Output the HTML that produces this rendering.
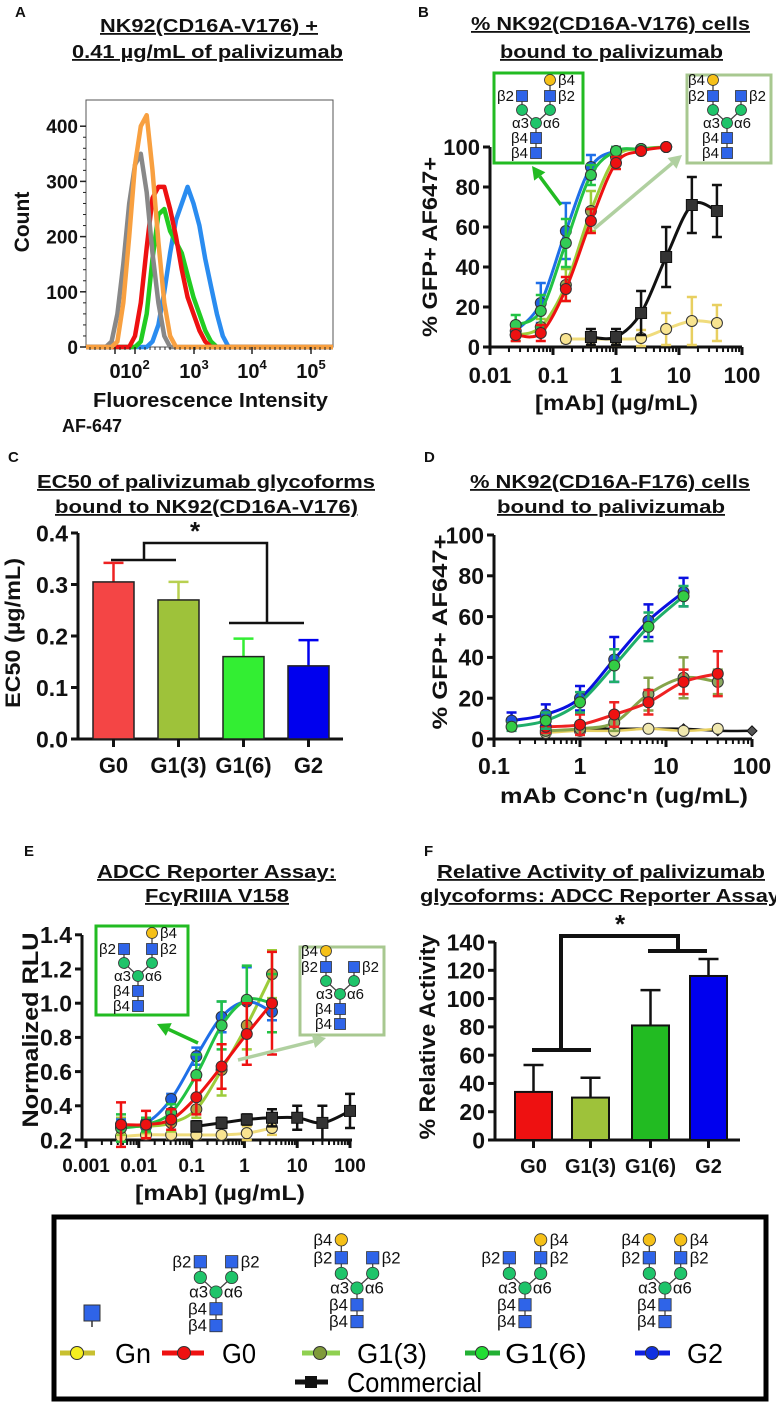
<!DOCTYPE html>
<html><head><meta charset="utf-8">
<style>
html,body{margin:0;padding:0;background:#fff;}
svg{display:block;font-family:"Liberation Sans",Arial,sans-serif;}
.t{font-weight:bold;fill:#111;}
.ttl{font-weight:bold;font-size:18px;fill:#111;text-decoration:underline;}
</style></head>
<body>
<svg id="fig" width="776" height="1406" viewBox="0 0 776 1406" xmlns="http://www.w3.org/2000/svg">
<!-- Panel labels -->
<text x="15" y="17" class="t" font-size="15">A</text>
<text x="418" y="17" class="t" font-size="15">B</text>
<text x="8" y="462" class="t" font-size="15">C</text>
<text x="424" y="462" class="t" font-size="15">D</text>
<text x="24" y="856" class="t" font-size="15">E</text>
<text x="424" y="856" class="t" font-size="15">F</text>

<!-- Titles -->
<text x="100" y="32" class="ttl" textLength="218" lengthAdjust="spacingAndGlyphs">NK92(CD16A-V176) +</text>
<text x="72" y="58" class="ttl" textLength="271" lengthAdjust="spacingAndGlyphs">0.41 µg/mL of palivizumab</text>
<text x="471" y="30" class="ttl" textLength="279" lengthAdjust="spacingAndGlyphs">% NK92(CD16A-V176) cells</text>
<text x="500" y="58" class="ttl" textLength="223" lengthAdjust="spacingAndGlyphs">bound to palivizumab</text>
<text x="37" y="488" class="ttl" textLength="338" lengthAdjust="spacingAndGlyphs">EC50 of palivizumab glycoforms</text>
<text x="55" y="513" class="ttl" textLength="303" lengthAdjust="spacingAndGlyphs">bound to NK92(CD16A-V176)</text>
<text x="470" y="488" class="ttl" textLength="280" lengthAdjust="spacingAndGlyphs">% NK92(CD16A-F176) cells</text>
<text x="497" y="513" class="ttl" textLength="228" lengthAdjust="spacingAndGlyphs">bound to palivizumab</text>
<text x="97" y="878" class="ttl" textLength="239" lengthAdjust="spacingAndGlyphs">ADCC Reporter Assay:</text>
<text x="145" y="902" class="ttl" textLength="144" lengthAdjust="spacingAndGlyphs">FcγRIIIA V158</text>
<text x="437" y="878" class="ttl" textLength="328" lengthAdjust="spacingAndGlyphs">Relative Activity of palivizumab</text>
<text x="420" y="902" class="ttl" textLength="360" lengthAdjust="spacingAndGlyphs">glycoforms: ADCC Reporter Assay</text>

<!-- Axis titles -->
<text transform="translate(29,222) rotate(-90)" text-anchor="middle" class="t" font-size="21">Count</text>
<text x="93" y="407" class="t" font-size="20" textLength="235" lengthAdjust="spacingAndGlyphs">Fluorescence Intensity</text>
<text x="62" y="432" class="t" font-size="18">AF-647</text>
<text transform="translate(437,247) rotate(-90)" text-anchor="middle" class="t" font-size="21" textLength="180" lengthAdjust="spacingAndGlyphs">% GFP+ AF647+</text>
<text x="535" y="410" class="t" font-size="21" textLength="163" lengthAdjust="spacingAndGlyphs">[mAb] (µg/mL)</text>
<text transform="translate(20,633) rotate(-90)" text-anchor="middle" class="t" font-size="21" textLength="150" lengthAdjust="spacingAndGlyphs">EC50 (µg/mL)</text>
<text transform="translate(447,632) rotate(-90)" text-anchor="middle" class="t" font-size="21" textLength="195" lengthAdjust="spacingAndGlyphs">% GFP+ AF647+</text>
<text x="500" y="803" class="t" font-size="21" textLength="248" lengthAdjust="spacingAndGlyphs">mAb Conc'n (ug/mL)</text>
<text transform="translate(38,1030) rotate(-90)" text-anchor="middle" class="t" font-size="22" textLength="195" lengthAdjust="spacingAndGlyphs">Normalized RLU</text>
<text x="135" y="1200" class="t" font-size="21" textLength="170" lengthAdjust="spacingAndGlyphs">[mAb] (µg/mL)</text>
<text transform="translate(435,1037) rotate(-90)" text-anchor="middle" class="t" font-size="22" textLength="205" lengthAdjust="spacingAndGlyphs">% Relative Activity</text>

<!-- Legend -->
<g>
<rect x="54" y="1217" width="712" height="182" fill="none" stroke="#000" stroke-width="5"/>
<g>
<line x1="60" y1="1353" x2="95" y2="1353" stroke="#c8c030" stroke-width="5"/>
<circle cx="77" cy="1353" r="6.5" fill="#f5ee20" stroke="#333"/>
<text x="115" y="1363" font-size="28" textLength="36" lengthAdjust="spacingAndGlyphs">Gn</text></g>
<g>
<line x1="162" y1="1353" x2="204" y2="1353" stroke="#ee1111" stroke-width="5"/>
<circle cx="184" cy="1353" r="6.5" fill="#ee1111" stroke="#333"/>
<text x="222" y="1363" font-size="28" textLength="34" lengthAdjust="spacingAndGlyphs">G0</text></g>
<g>
<line x1="302" y1="1353" x2="340" y2="1353" stroke="#8fd050" stroke-width="5"/>
<circle cx="320" cy="1353" r="6.5" fill="#7f9a3a" stroke="#333"/>
<text x="357" y="1363" font-size="28" textLength="70" lengthAdjust="spacingAndGlyphs">G1(3)</text></g>
<g>
<line x1="465" y1="1353" x2="500" y2="1353" stroke="#22b033" stroke-width="5"/>
<circle cx="482" cy="1353" r="6.5" fill="#22dd33" stroke="#333"/>
<text x="505" y="1363" font-size="28" textLength="82" lengthAdjust="spacingAndGlyphs">G1(6)</text></g>
<g>
<line x1="635" y1="1353" x2="670" y2="1353" stroke="#1020e0" stroke-width="5"/>
<circle cx="652" cy="1353" r="6.5" fill="#1030e0" stroke="#333"/>
<text x="687" y="1363" font-size="28" textLength="36" lengthAdjust="spacingAndGlyphs">G2</text></g>
<g>
<line x1="295" y1="1382" x2="328" y2="1382" stroke="#111" stroke-width="5"/>
<rect x="305" y="1376" width="12" height="12" fill="#111"/>
<text x="347" y="1392" font-size="28" textLength="135" lengthAdjust="spacingAndGlyphs">Commercial</text></g>
</g>
<g id="marks"></g>
</svg>
<script>
// ---------------- DATA ----------------
// Panel A histogram (log10 fluorescence bins, counts)
const aBins = [1.5,1.6,1.7,1.8,1.9,2.0,2.1,2.2,2.3,2.4,2.5,2.6,2.7,2.8,2.9,3.0,3.1,3.2,3.3,3.4,3.5,3.6,3.7,3.8];
const aBlue   = [0,0,0,0,0,0,0,0,10,40,100,170,230,260,290,260,220,160,110,60,20,0,0,0];
const aGreen  = [0,0,0,0,0,0,10,60,160,240,250,210,190,170,130,90,60,30,10,0,0,0,0,0];
const aRed    = [0,0,0,0,0,20,80,180,270,290,290,250,200,140,90,60,30,10,0,0,0,0,0,0];
const aGray   = [0,10,60,150,260,330,350,280,170,80,20,0,0,0,0,0,0,0,0,0,0,0,0,0];
const aOrange = [0,0,10,80,200,330,400,420,320,190,80,20,0,0,0,0,0,0,0,0,0,0,0,0];
const aYTicks = [0,100,200,300,400];
// Panel B
const bConc = [0.0256,0.064,0.16,0.4,1,2.5,6.25];
const bG2 = [8,22,58,90,98,99,100];   const bG2Err = [3,10,14,6,2,1,1];
const bG16 = [11,18,52,86,98,99,100]; const bG16Err = [5,8,12,5,2,1,1];
const bG13 = [6,10,31,68,95,99,100];  const bG13Err = [3,4,8,10,3,1,1];
const bG0 = [6,7,29,63,92,98,100];    const bG0Err = [3,4,6,6,3,1,1];
const bGnConc = [0.16,0.4,1,2.5,6.25,16,40];
const bGn = [4,4,4,4.5,9,13,12];      const bGnErr = [2,3,3,4,8,12,9];
const bComConc = [0.4,1,2.5,6.25,16,40];
const bCom = [5,5,17,45,71,68];       const bComErr = [4,4,11,15,14,13];
const bYTicks = [0,20,40,60,80,100];
const bXTicks = [0.01,0.1,1,10,100];
const bXLabels = ['0.01','0.1','1','10','100'];
// Panel C
const cCats = ['G0','G1(3)','G1(6)','G2'];
const cVals = [0.305,0.27,0.16,0.142];
const cErr = [0.037,0.035,0.035,0.05];
const cYTicks = [0,0.1,0.2,0.3,0.4];
const cYLabels = ['0.0','0.1','0.2','0.3','0.4'];
// Panel D
const dConc = [0.16,0.4,1,2.5,6.25,16];
const dG2 = [9,12,20,39,58,72];   const dG2Err = [4,5,6,11,8,7];
const dG16 = [6,9,18,36,55,70];   const dG16Err = [2,4,5,8,7,5];
const dConc2 = [0.4,1,2.5,6.25,16,40];
const dG13 = [4,5,8,22,30,28];    const dG13Err = [2,3,4,8,10,6];
const dG0 = [6,7,12,18,28,32];    const dG0Err = [3,5,6,6,6,11];
const dGn = [3,4,4,5,4,5];        const dGnErr = [1,1,1,1,1,1];
const dComConc = [1,2.5,6.25,16,40,100];
const dCom = [5,5,5,5,4,4];
const dYTicks = [0,20,40,60,80,100];
const dXTicks = [0.1,1,10,100];
const dXLabels = ['0.1','1','10','100'];
// Panel E
const eConc = [0.0046,0.0137,0.041,0.123,0.37,1.11,3.33];
const eG2 = [0.29,0.30,0.44,0.69,0.92,1.01,0.95];  const eG2Err = [0.03,0.03,0.03,0.05,0.09,0.2,0.05];
const eG16 = [0.27,0.29,0.36,0.58,0.87,1.02,1.00]; const eG16Err = [0.08,0.04,0.05,0.12,0.14,0.2,0.17];
const eG13 = [0.28,0.28,0.30,0.38,0.61,0.87,1.17]; const eG13Err = [0.05,0.04,0.05,0.05,0.15,0.14,0.14];
const eG0 = [0.29,0.29,0.32,0.45,0.63,0.82,1.00];  const eG0Err = [0.13,0.08,0.06,0.1,0.13,0.18,0.30];
const eGn = [0.22,0.23,0.23,0.23,0.23,0.24,0.27];  const eGnErr = [0.02,0.02,0.02,0.02,0.02,0.04,0.04];
const eComConc = [0.123,0.37,1.11,3.33,10,30,100];
const eCom = [0.28,0.30,0.32,0.33,0.33,0.30,0.37]; const eComErr = [0.03,0.03,0.03,0.05,0.07,0.1,0.1];
const eYTicks = [0.2,0.4,0.6,0.8,1.0,1.2,1.4];
const eXTicks = [0.001,0.01,0.1,1,10,100];
const eXLabels = ['0.001','0.01','0.1','1','10','100'];
// Panel F
const fCats = ['G0','G1(3)','G1(6)','G2'];
const fVals = [34,30,81,116];
const fErr = [19,14,25,12];
const fYTicks = [0,20,40,60,80,100,120,140];

// ---------------- HELPERS ----------------
const NS='http://www.w3.org/2000/svg';
const root=document.getElementById('marks');
function mk(parent, tag, attrs, name){
  const el=document.createElementNS(NS,tag);
  for(const k in attrs) el.setAttribute(k, attrs[k]);
  
  
  parent.appendChild(el);
  return el;
}
function txt(parent, x, y, s, size, anchor, name, bold){
  const el=mk(parent,'text',{x:x,y:y,'font-size':size,'text-anchor':anchor||'start','font-weight':bold===false?'normal':'bold',fill:'#111'},name);
  el.textContent=s; return el;
}
function logScale(x0, l0, dec){ return v => x0 + (Math.log10(v)-l0)*dec; }
function linScale(y0, v0, ppu){ return v => y0 - (v-v0)*ppu; }
function crPath(pts){
  if(pts.length<2) return '';
  let d='M'+pts[0][0].toFixed(1)+','+pts[0][1].toFixed(1);
  for(let i=0;i<pts.length-1;i++){
    const p0=pts[Math.max(0,i-1)], p1=pts[i], p2=pts[i+1], p3=pts[Math.min(pts.length-1,i+2)];
    const c1=[p1[0]+(p2[0]-p0[0])/6, p1[1]+(p2[1]-p0[1])/6];
    const c2=[p2[0]-(p3[0]-p1[0])/6, p2[1]-(p3[1]-p1[1])/6];
    d+=' C'+c1[0].toFixed(1)+','+c1[1].toFixed(1)+' '+c2[0].toFixed(1)+','+c2[1].toFixed(1)+' '+p2[0].toFixed(1)+','+p2[1].toFixed(1);
  }
  return d;
}
function series(g, xs, ys, conc, vals, errs, color, fill, shape, name, lw){
  const pts=conc.map((c,i)=>[xs(c), ys(vals[i])]);
  mk(g,'path',{d:crPath(pts),fill:'none',stroke:color,'stroke-width':lw||3},name+'-curve');
  conc.forEach((c,i)=>{
    const x=xs(c), y=ys(vals[i]);
    if(errs){
      const e=errs[i], yt=ys(vals[i]+e), yb=ys(vals[i]-e);
      mk(g,'path',{d:`M${x},${yt}V${yb}M${x-5},${yt}h10M${x-5},${yb}h10`,stroke:color==='#f0dc7c'?'#e8cf60':color,'stroke-width':2.5,fill:'none'},name+'-error-bar');
    }
    if(shape==='square') mk(g,'rect',{x:x-5.5,y:y-5.5,width:11,height:11,fill:fill,stroke:'#111'},name+'-point');
    else if(shape==='diamond') mk(g,'path',{d:`M${x},${y-5}l5,5l-5,5l-5,-5z`,fill:fill,stroke:'#111'},name+'-point');
    else mk(g,'circle',{cx:x,cy:y,r:5.5,fill:fill,stroke:'#333','stroke-width':1},name+'-point');
  });
}
function yAxis(g, x, ys, ticks, labels, yTop, yBot, size, name, minor){
  mk(g,'line',{x1:x,y1:yTop,x2:x,y2:yBot+1.5,stroke:'#111','stroke-width':3},name+'-line');
  ticks.forEach((t,i)=>{
    const y=ys(t);
    mk(g,'line',{x1:x-7,y1:y,x2:x,y2:y,stroke:'#111','stroke-width':3},name+'-tick');
    txt(g,x-10,y+size*0.36,labels?labels[i]:String(t),size,'end',name+'-tick-label');
  });
}
function xLogAxis(g, y, x0, x1, xs, ticks, labels, size, labelY, name){
  mk(g,'line',{x1:x0,y1:y,x2:x1,y2:y,stroke:'#111','stroke-width':3},name+'-line');
  ticks.forEach((t,i)=>{
    const x=xs(t);
    mk(g,'line',{x1:x,y1:y,x2:x,y2:y+8,stroke:'#111','stroke-width':3},name+'-tick');
    txt(g,x,labelY,labels[i],size,'middle',name+'-tick-label');
    if(i<ticks.length-1) for(let m=2;m<10;m++){
      const xm=xs(t*m);
      mk(g,'line',{x1:xm,y1:y,x2:xm,y2:y+5,stroke:'#111','stroke-width':2},name+'-minor-tick');
    }
  });
}
function glycan(g, cx, my, s, galL, galR, name){
  const dx=14*s, dm=-13*s, dsq=-27*s, dgal=-43*s, b1=15*s, b2=30*s, r=5.5*s, fs=15*s;
  const blue='#2f64e8', green='#1fc46a', yel='#f5c018';
  const L=cx-dx, R=cx+dx;
  let d=`M${cx},${my+b2}V${my}L${L},${my+dm}V${my+(galL?dgal:dsq)}M${cx},${my}L${R},${my+dm}V${my+(galR?dgal:dsq)}`;
  mk(g,'path',{d:d,stroke:'#444','stroke-width':1.3,fill:'none'},name+'-bonds');
  const sq=(x,y)=>mk(g,'rect',{x:x-r,y:y-r,width:2*r,height:2*r,fill:blue,stroke:'#333','stroke-width':0.8},name+'-glcnac');
  const ci=(x,y,c,n)=>mk(g,'circle',{cx:x,cy:y,r:r,fill:c,stroke:'#333','stroke-width':0.8},name+n);
  sq(cx,my+b1); sq(cx,my+b2); sq(L,my+dsq); sq(R,my+dsq);
  ci(cx,my,green,'-mannose'); ci(L,my+dm,green,'-mannose'); ci(R,my+dm,green,'-mannose');
  if(galL) ci(L,my+dgal,yel,'-galactose');
  if(galR) ci(R,my+dgal,yel,'-galactose');
  const lt=(x,y,s2,a)=>txt(g,x,y,s2,fs,a,name+'-linkage-label',false);
  lt(cx-7*s,my+5*s,'α3','end'); lt(cx+7*s,my+5*s,'α6','start');
  lt(cx-8*s,my+b1+5*s,'β4','end'); lt(cx-8*s,my+b2+5*s,'β4','end');
  lt(L-8*s,my+dsq+5*s,'β2','end'); lt(R+8*s,my+dsq+5*s,'β2','start');
  if(galL) lt(L-8*s,my+dgal+5*s,'β4','end');
  if(galR) lt(R+8*s,my+dgal+5*s,'β4','start');
}
function arrow(g,x1,y1,x2,y2,color,name){
  const a=Math.atan2(y2-y1,x2-x1), hl=13, hw=7;
  const bx=x2-hl*Math.cos(a), by=y2-hl*Math.sin(a);
  mk(g,'line',{x1:x1,y1:y1,x2:bx,y2:by,stroke:color,'stroke-width':3.5},name+'-shaft');
  mk(g,'path',{d:`M${x2},${y2}L${bx+hw*Math.sin(a)},${by-hw*Math.cos(a)}L${bx-hw*Math.sin(a)},${by+hw*Math.cos(a)}Z`,fill:color},name+'-head');
}

// ---------------- PANEL A ----------------
(function(){
  const g=mk(root,'g',{},'panel-a-histogram');
  const xs=l=>135+(l-2)*58.5, ys=linScale(347,0,0.552);
  mk(g,'rect',{x:86,y:100,width:247,height:247,fill:'none',stroke:'#555','stroke-width':1},'plot-frame-a');
  const draw=(arr,color,name)=>{
    let d=`M86,347`;
    aBins.forEach((b,i)=>{ d+=`L${xs(b).toFixed(1)},${ys(arr[i]).toFixed(1)}`; });
    d+='L333,347';
    mk(g,'path',{d:d,fill:'none',stroke:color,'stroke-width':4.5,'stroke-linejoin':'round'},name);
  };
  draw(aBlue,'#2a8cf0','histogram-blue'); draw(aGreen,'#22cc22','histogram-green');
  draw(aRed,'#ee1111','histogram-red'); draw(aGray,'#888','histogram-gray'); draw(aOrange,'#f8a040','histogram-orange');
  aYTicks.forEach(t=>{
    mk(g,'line',{x1:80,y1:ys(t),x2:86,y2:ys(t),stroke:'#222','stroke-width':1.5},'y-tick-a');
    txt(g,78,ys(t)+7,String(t),19,'end','y-tick-label-a');
  });
  for(let v=20;v<420;v+=20) mk(g,'line',{x1:83,y1:ys(v),x2:86,y2:ys(v),stroke:'#222','stroke-width':1},'y-minor-tick-a');
  [115,135,194,252,311].forEach(x=>mk(g,'line',{x1:x,y1:347,x2:x,y2:354,stroke:'#222','stroke-width':1.5},'x-tick-a'));
  for(let x=90;x<333;x+=5) mk(g,'line',{x1:x,y1:347,x2:x,y2:350,stroke:'#222','stroke-width':1},'x-minor-tick-a');
  txt(g,115,378,'0',20,'middle','x-tick-label-a');
  [[140,'2'],[199,'3'],[257,'4'],[316,'5']].forEach(p=>{
    const t=txt(g,p[0]-5,378,'10',20,'middle','x-tick-label-a');
    const sp=document.createElementNS(NS,'tspan'); sp.setAttribute('dy','-9'); sp.setAttribute('font-size','13'); sp.textContent=p[1]; t.appendChild(sp);
  });
})();

// ---------------- PANEL B ----------------
(function(){
  const g=mk(root,'g',{},'panel-b-binding-curve');
  const xs=logScale(490,-2,63), ys=linScale(347,0,2);
  yAxis(g,490,ys,bYTicks,null,147,347,22,'y-axis-b');
  xLogAxis(g,347,490,742,xs,bXTicks,bXLabels,22,383,'x-axis-b');
  series(g,xs,ys,bGnConc,bGn,bGnErr,'#f0dc7c','#f8e490','circle','series-b-gn');
  series(g,xs,ys,bComConc,bCom,bComErr,'#111','#333','square','series-b-commercial');
  series(g,xs,ys,bConc,bG2,bG2Err,'#1f6fe8','#1f5fe0','circle','series-b-g2');
  series(g,xs,ys,bConc,bG13,bG13Err,'#9ccc3a','#9aaa55','circle','series-b-g1-3');
  series(g,xs,ys,bConc,bG16,bG16Err,'#22c244','#33cc55','circle','series-b-g1-6');
  series(g,xs,ys,bConc,bG0,bG0Err,'#ee1111','#ee1111','circle','series-b-g0');
  mk(g,'rect',{x:494,y:73,width:89,height:90,fill:'#fff',stroke:'#22bb22','stroke-width':3},'inset-box-b-g1-6');
  glycan(g,536,123,1,false,true,'inset-glycan-b-g1-6');
  mk(g,'rect',{x:687,y:75,width:84,height:88,fill:'#fff',stroke:'#a8c890','stroke-width':3},'inset-box-b-g1-3');
  glycan(g,727,123,1,true,false,'inset-glycan-b-g1-3');
  arrow(g,561,205,532,166,'#22bb22','inset-arrow-b-g1-6');
  arrow(g,594,229,682,155,'#b0d0a0','inset-arrow-b-g1-3');
})();

// ---------------- PANEL C ----------------
(function(){
  const g=mk(root,'g',{},'panel-c-bar-chart');
  const ys=linScale(739,0,515);
  const fills=['#f44545','#9ec23a','#33ee33','#0000ee'], errC=['#ee2222','#b8d050','#33ee33','#0000ee'];
  const x0=[93,158,223,288], w=41;
  yAxis(g,78,ys,cYTicks,cYLabels,533,739,23,'y-axis-c');
  mk(g,'line',{x1:78,y1:739,x2:343,y2:739,stroke:'#111','stroke-width':3},'x-axis-c-line');
  cVals.forEach((v,i)=>{
    const cx=x0[i]+w/2;
    mk(g,'path',{d:`M${cx},${ys(v)}V${ys(v+cErr[i])}M${cx-10},${ys(v+cErr[i])}h20`,stroke:errC[i],'stroke-width':2.5,fill:'none'},'error-bar-c');
    mk(g,'rect',{x:x0[i],y:ys(v),width:w,height:739-ys(v),fill:fills[i],stroke:'#222','stroke-width':1.5},'bar-c-'+i);
    mk(g,'line',{x1:cx,y1:739,x2:cx,y2:747,stroke:'#111','stroke-width':3},'x-tick-c');
    txt(g,cx,773,cCats[i],22,'middle','x-tick-label-c');
  });
  mk(g,'path',{d:'M111,560H176M144,560V543H267V623M229,623H304',stroke:'#111','stroke-width':2.5,fill:'none'},'significance-bracket-c');
  txt(g,195,540,'*',26,'middle','significance-star-c');
})();

// ---------------- PANEL D ----------------
(function(){
  const g=mk(root,'g',{},'panel-d-binding-curve');
  const xs=logScale(494,-1,86), ys=linScale(739,0,2.04);
  yAxis(g,494,ys,dYTicks,null,535,739,23,'y-axis-d');
  xLogAxis(g,739,494,752,xs,dXTicks,dXLabels,23,774,'x-axis-d');
  series(g,xs,ys,dComConc,dCom,null,'#111','#555','diamond','series-d-commercial',2.5);
  series(g,xs,ys,dConc2,dGn,dGnErr,'#e8d060','#f0e8b0','circle','series-d-gn',2.5);
  series(g,xs,ys,dConc2,dG13,dG13Err,'#86a44a','#8aa860','circle','series-d-g1-3');
  series(g,xs,ys,dConc2,dG0,dG0Err,'#ee2222','#ee1111','circle','series-d-g0');
  series(g,xs,ys,dConc,dG2,dG2Err,'#0a10e0','#2050e0','circle','series-d-g2');
  series(g,xs,ys,dConc,dG16,dG16Err,'#1fae6a','#33cc44','circle','series-d-g1-6');
})();

// ---------------- PANEL E ----------------
(function(){
  const g=mk(root,'g',{},'panel-e-adcc-curve');
  const xs=logScale(86,-3,52.8), ys=linScale(1140,0.2,171);
  yAxis(g,82,ys,eYTicks,eYTicks.map(v=>v.toFixed(1)),935,1140,23,'y-axis-e');
  xLogAxis(g,1140,82,352,xs,eXTicks,eXLabels,19,1172,'x-axis-e');
  series(g,xs,ys,eConc,eGn,eGnErr,'#f0dc7c','#f8e490','circle','series-e-gn');
  series(g,xs,ys,eComConc,eCom,eComErr,'#111','#333','square','series-e-commercial');
  series(g,xs,ys,eConc,eG13,eG13Err,'#9ccc3a','#b0a040','circle','series-e-g1-3');
  series(g,xs,ys,eConc,eG2,eG2Err,'#1f6fe8','#1f5fe0','circle','series-e-g2');
  series(g,xs,ys,eConc,eG16,eG16Err,'#22c244','#33cc55','circle','series-e-g1-6');
  series(g,xs,ys,eConc,eG0,eG0Err,'#ee1111','#ee1111','circle','series-e-g0');
  mk(g,'rect',{x:96,y:926,width:92,height:89,fill:'#fff',stroke:'#22bb22','stroke-width':3},'inset-box-e-g1-6');
  glycan(g,138,976,1,false,true,'inset-glycan-e-g1-6');
  mk(g,'rect',{x:300,y:947,width:84,height:88,fill:'#fff',stroke:'#a8c890','stroke-width':3},'inset-box-e-g1-3');
  glycan(g,340,994,1,true,false,'inset-glycan-e-g1-3');
  arrow(g,198,1043,157,1024,'#22bb22','inset-arrow-e-g1-6');
  arrow(g,238,1060,326,1038,'#b0d0a0','inset-arrow-e-g1-3');
})();

// ---------------- PANEL F ----------------
(function(){
  const g=mk(root,'g',{},'panel-f-bar-chart');
  const ys=linScale(1140,0,1.414);
  const fills=['#ee1111','#9ec23a','#22bb22','#0000ee'];
  const x0=[515,572,632,690], w=37;
  yAxis(g,495,ys,fYTicks,null,942,1140,23,'y-axis-f');
  mk(g,'line',{x1:495,y1:1140,x2:740,y2:1140,stroke:'#111','stroke-width':3},'x-axis-f-line');
  fVals.forEach((v,i)=>{
    const cx=x0[i]+w/2;
    mk(g,'path',{d:`M${cx},${ys(v)}V${ys(v+fErr[i])}M${cx-10},${ys(v+fErr[i])}h20`,stroke:'#111','stroke-width':2.5,fill:'none'},'error-bar-f');
    mk(g,'rect',{x:x0[i],y:ys(v),width:w,height:1140-ys(v),fill:fills[i],stroke:'#111','stroke-width':2},'bar-f-'+i);
    mk(g,'line',{x1:cx,y1:1140,x2:cx,y2:1148,stroke:'#111','stroke-width':3},'x-tick-f');
    txt(g,cx,1173,fCats[i],20,'middle','x-tick-label-f');
  });
  mk(g,'path',{d:'M532,1050H591M561,1050V936H678V951M648,951H707',stroke:'#111','stroke-width':4,fill:'none'},'significance-bracket-f');
  txt(g,620,933,'*',26,'middle','significance-star-f');
})();

// ---------------- LEGEND GLYCANS ----------------
(function(){
  const g=mk(root,'g',{},'legend-glycans');
  mk(g,'line',{x1:92,y1:1313,x2:92,y2:1327,stroke:'#333','stroke-width':1.5},'legend-glycan-gn-bond');
  mk(g,'rect',{x:84,y:1305,width:16,height:16,fill:'#2f64e8',stroke:'#333'},'legend-glycan-gn');
  glycan(g,216,1292,1.12,false,false,'legend-glycan-g0');
  glycan(g,357,1288,1.12,true,false,'legend-glycan-g1-3');
  glycan(g,525,1288,1.12,false,true,'legend-glycan-g1-6');
  glycan(g,665,1288,1.12,true,true,'legend-glycan-g2');
})();
</script>
</body></html>
